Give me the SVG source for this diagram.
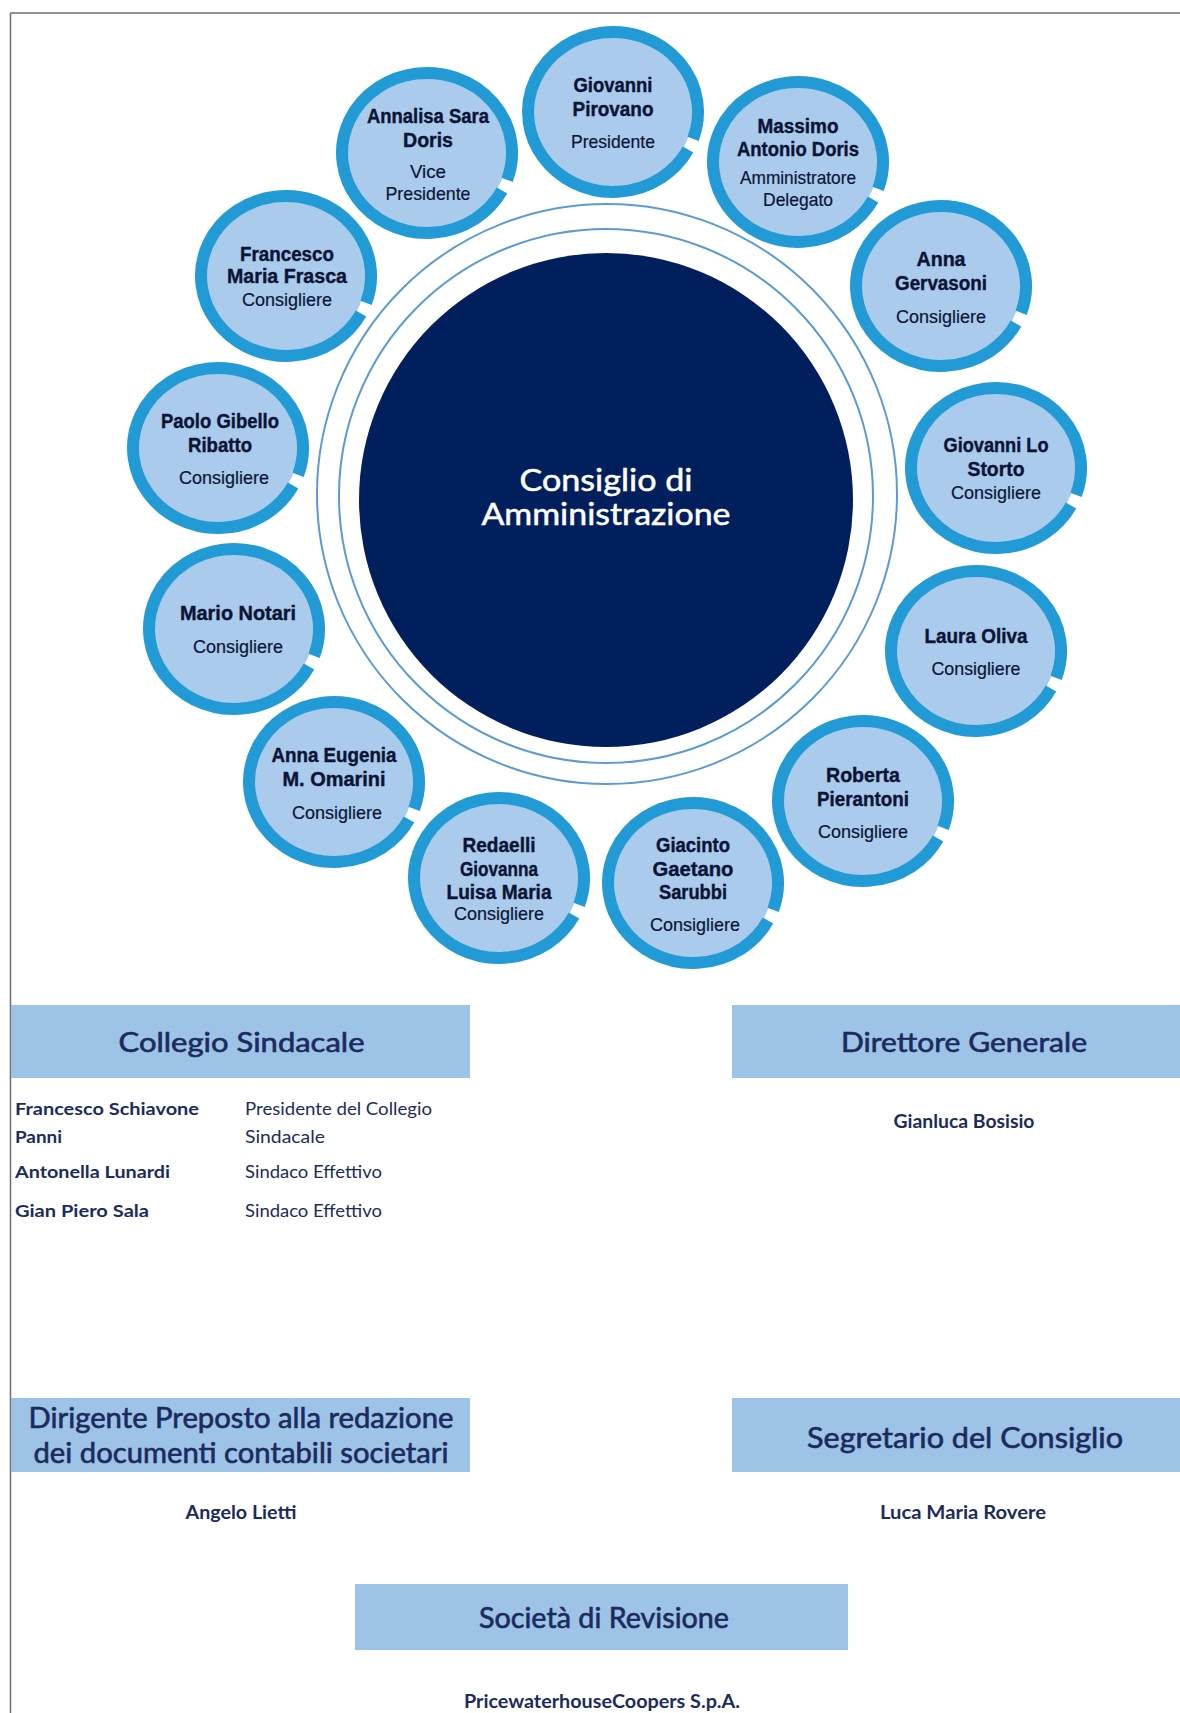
<svg xmlns="http://www.w3.org/2000/svg" xmlns:xlink="http://www.w3.org/1999/xlink" width="1180" height="1713" viewBox="0 0 1180 1713">
  <style>
    .frame { stroke: #6e6e6e; stroke-width: 1.5; fill: none; }
    .orbit { fill: none; stroke: #5b9bd5; stroke-width: 2; }
    .core { fill: #001f5c; }
    .disc { fill: #aacbec; }
    .ring { fill: none; stroke: #229ad6; stroke-width: 12; stroke-linecap: butt; }
    .nm { font-family: "Liberation Sans Narrow", "Liberation Sans", Arial, sans-serif; font-weight: bold; font-size: 20px; fill: #0b1435; stroke: #0b1435; stroke-width: 0.4; text-anchor: middle; }
    .rl { font-family: "Liberation Sans Narrow", "Liberation Sans", Arial, sans-serif; font-weight: normal; font-size: 19px; fill: #0b1435; stroke: #0b1435; stroke-width: 0.2; text-anchor: middle; }
    .title { font-family: Lato, "Liberation Sans", sans-serif; font-size: 30px; fill: #ffffff; stroke: #ffffff; stroke-width: 0.5; text-anchor: middle; }
    .bar { fill: #9dc3e6; }
    .head { font-family: Lato, "Liberation Sans", sans-serif; font-size: 26px; fill: #1c2b5e; stroke: #1c2b5e; stroke-width: 0.6; text-anchor: middle; }
    .headc { font-family: Lato, "Liberation Sans", sans-serif; font-size: 28px; fill: #1c2b5e; stroke: #1c2b5e; stroke-width: 0.6; text-anchor: middle; }
    .who { font-family: Lato, "Liberation Sans", sans-serif; font-weight: bold; font-size: 17.5px; fill: #1c2b5e; }
    .what { font-family: Lato, "Liberation Sans", sans-serif; font-size: 17.5px; fill: #1c2b5e; }
    .whoc { font-family: Lato, "Liberation Sans", sans-serif; font-weight: bold; font-size: 18px; fill: #1c2b5e; text-anchor: middle; }
  </style>
  <defs>
    <!-- member badge: light disc with an open blue ring, gap on the lower right -->
    <g id="badge">
      <ellipse class="disc" cx="0" cy="0" rx="80" ry="75"/>
      <path class="ring" d="M75.04,37.56 A85,80 0 1 1 80.10,26.78"/>
    </g>
  </defs>

  <rect width="1180" height="1713" fill="#ffffff"/>

  <!-- page frame -->
  <g id="frame">
    <line class="frame" x1="10.5" y1="13" x2="1180" y2="13"/>
    <line class="frame" x1="10.5" y1="13" x2="10.5" y2="1713"/>
  </g>

  <!-- board of directors hub -->
  <g id="board">
    <circle class="orbit" cx="607" cy="494" r="290"/>
    <circle class="orbit" cx="606" cy="496" r="267"/>
    <circle class="core" cx="606" cy="500" r="247"/>
    <text class="title" x="606" y="491" textLength="173" lengthAdjust="spacingAndGlyphs">Consiglio di</text>
    <text class="title" x="606" y="525" textLength="249" lengthAdjust="spacingAndGlyphs">Amministrazione</text>
  </g>

  <!-- board members -->
  <g id="m-pirovano" transform="translate(613,112)">
    <use xlink:href="#badge"/>
    <text class="nm" x="0" y="-20" textLength="79" lengthAdjust="spacingAndGlyphs">Giovanni</text>
    <text class="nm" x="0" y="4" textLength="81" lengthAdjust="spacingAndGlyphs">Pirovano</text>
    <text class="rl" x="0" y="36" textLength="84" lengthAdjust="spacingAndGlyphs">Presidente</text>
  </g>

  <g id="m-mdoris" transform="translate(798,162)">
    <use xlink:href="#badge"/>
    <text class="nm" x="0" y="-29" textLength="81" lengthAdjust="spacingAndGlyphs">Massimo</text>
    <text class="nm" x="0" y="-6" textLength="122" lengthAdjust="spacingAndGlyphs">Antonio Doris</text>
    <text class="rl" x="0" y="22" font-size="17" textLength="116" lengthAdjust="spacingAndGlyphs">Amministratore</text>
    <text class="rl" x="0" y="44" font-size="17" textLength="70" lengthAdjust="spacingAndGlyphs">Delegato</text>
  </g>

  <g id="m-gervasoni" transform="translate(941,286)">
    <use xlink:href="#badge"/>
    <text class="nm" x="0" y="-20" textLength="49" lengthAdjust="spacingAndGlyphs">Anna</text>
    <text class="nm" x="0" y="4" textLength="92" lengthAdjust="spacingAndGlyphs">Gervasoni</text>
    <text class="rl" x="0" y="37" textLength="90" lengthAdjust="spacingAndGlyphs">Consigliere</text>
  </g>

  <g id="m-lostorto" transform="translate(996,468)">
    <use xlink:href="#badge"/>
    <text class="nm" x="0" y="-16" textLength="105" lengthAdjust="spacingAndGlyphs">Giovanni Lo</text>
    <text class="nm" x="0" y="8" textLength="57" lengthAdjust="spacingAndGlyphs">Storto</text>
    <text class="rl" x="0" y="31" textLength="90" lengthAdjust="spacingAndGlyphs">Consigliere</text>
  </g>

  <g id="m-oliva" transform="translate(976,651)">
    <use xlink:href="#badge"/>
    <text class="nm" x="0" y="-8" textLength="103" lengthAdjust="spacingAndGlyphs">Laura Oliva</text>
    <text class="rl" x="0" y="24" textLength="89" lengthAdjust="spacingAndGlyphs">Consigliere</text>
  </g>

  <g id="m-pierantoni" transform="translate(863,801)">
    <use xlink:href="#badge"/>
    <text class="nm" x="0" y="-19" textLength="74" lengthAdjust="spacingAndGlyphs">Roberta</text>
    <text class="nm" x="0" y="5" textLength="92" lengthAdjust="spacingAndGlyphs">Pierantoni</text>
    <text class="rl" x="0" y="37" textLength="90" lengthAdjust="spacingAndGlyphs">Consigliere</text>
  </g>

  <g id="m-sarubbi" transform="translate(693,883)">
    <use xlink:href="#badge"/>
    <text class="nm" x="0" y="-31" textLength="74" lengthAdjust="spacingAndGlyphs">Giacinto</text>
    <text class="nm" x="0" y="-7" textLength="81" lengthAdjust="spacingAndGlyphs">Gaetano</text>
    <text class="nm" x="0" y="16" textLength="68" lengthAdjust="spacingAndGlyphs">Sarubbi</text>
    <text class="rl" x="2" y="48" textLength="90" lengthAdjust="spacingAndGlyphs">Consigliere</text>
  </g>

  <g id="m-redaelli" transform="translate(499,878)">
    <use xlink:href="#badge"/>
    <text class="nm" x="0" y="-26" textLength="73" lengthAdjust="spacingAndGlyphs">Redaelli</text>
    <text class="nm" x="0" y="-2" textLength="78" lengthAdjust="spacingAndGlyphs">Giovanna</text>
    <text class="nm" x="0" y="21" textLength="105" lengthAdjust="spacingAndGlyphs">Luisa Maria</text>
    <text class="rl" x="0" y="42" textLength="90" lengthAdjust="spacingAndGlyphs">Consigliere</text>
  </g>

  <g id="m-omarini" transform="translate(334,782)">
    <use xlink:href="#badge"/>
    <text class="nm" x="0" y="-20" textLength="125" lengthAdjust="spacingAndGlyphs">Anna Eugenia</text>
    <text class="nm" x="0" y="4" textLength="103" lengthAdjust="spacingAndGlyphs">M. Omarini</text>
    <text class="rl" x="3" y="37" textLength="90" lengthAdjust="spacingAndGlyphs">Consigliere</text>
  </g>

  <g id="m-notari" transform="translate(234,629)">
    <use xlink:href="#badge"/>
    <text class="nm" x="4" y="-9" textLength="116" lengthAdjust="spacingAndGlyphs">Mario Notari</text>
    <text class="rl" x="4" y="24" textLength="90" lengthAdjust="spacingAndGlyphs">Consigliere</text>
  </g>

  <g id="m-gibello" transform="translate(218,448)">
    <use xlink:href="#badge"/>
    <text class="nm" x="2" y="-20" textLength="118" lengthAdjust="spacingAndGlyphs">Paolo Gibello</text>
    <text class="nm" x="2" y="4" textLength="64" lengthAdjust="spacingAndGlyphs">Ribatto</text>
    <text class="rl" x="6" y="36" textLength="90" lengthAdjust="spacingAndGlyphs">Consigliere</text>
  </g>

  <g id="m-frasca" transform="translate(286,276)">
    <use xlink:href="#badge"/>
    <text class="nm" x="1" y="-15" textLength="94" lengthAdjust="spacingAndGlyphs">Francesco</text>
    <text class="nm" x="1" y="7" textLength="120" lengthAdjust="spacingAndGlyphs">Maria Frasca</text>
    <text class="rl" x="1" y="30" textLength="90" lengthAdjust="spacingAndGlyphs">Consigliere</text>
  </g>

  <g id="m-adoris" transform="translate(427,153)">
    <use xlink:href="#badge"/>
    <text class="nm" x="1" y="-30" textLength="122" lengthAdjust="spacingAndGlyphs">Annalisa Sara</text>
    <text class="nm" x="1" y="-6" textLength="50" lengthAdjust="spacingAndGlyphs">Doris</text>
    <text class="rl" x="1" y="25" textLength="36" lengthAdjust="spacingAndGlyphs">Vice</text>
    <text class="rl" x="1" y="47" textLength="85" lengthAdjust="spacingAndGlyphs">Presidente</text>
  </g>

  <!-- control and management bodies -->
  <g id="collegio">
    <rect class="bar" x="11" y="1005" width="459" height="73"/>
    <text class="head" x="241.5" y="1052" textLength="246" lengthAdjust="spacingAndGlyphs">Collegio Sindacale</text>
    <text class="who" x="15" y="1115" textLength="184" lengthAdjust="spacingAndGlyphs">Francesco Schiavone</text>
    <text class="who" x="15" y="1143" textLength="47" lengthAdjust="spacingAndGlyphs">Panni</text>
    <text class="who" x="15" y="1178" textLength="155" lengthAdjust="spacingAndGlyphs">Antonella Lunardi</text>
    <text class="who" x="15" y="1217" textLength="134" lengthAdjust="spacingAndGlyphs">Gian Piero Sala</text>
    <text class="what" x="245" y="1115" textLength="187" lengthAdjust="spacingAndGlyphs">Presidente del Collegio</text>
    <text class="what" x="245" y="1143" textLength="80" lengthAdjust="spacingAndGlyphs">Sindacale</text>
    <text class="what" x="245" y="1178" textLength="137" lengthAdjust="spacingAndGlyphs">Sindaco Effettivo</text>
    <text class="what" x="245" y="1217" textLength="137" lengthAdjust="spacingAndGlyphs">Sindaco Effettivo</text>
  </g>

  <g id="direttore">
    <rect class="bar" x="732" y="1005" width="448" height="73"/>
    <text class="head" x="964" y="1052" textLength="246" lengthAdjust="spacingAndGlyphs">Direttore Generale</text>
    <text class="whoc" x="964" y="1128" textLength="141" lengthAdjust="spacingAndGlyphs">Gianluca Bosisio</text>
  </g>

  <g id="dirigente">
    <rect class="bar" x="11" y="1398" width="459" height="74"/>
    <text class="headc" x="241" y="1428" textLength="425" lengthAdjust="spacingAndGlyphs">Dirigente Preposto alla redazione</text>
    <text class="headc" x="241" y="1463" textLength="415" lengthAdjust="spacingAndGlyphs">dei documenti contabili societari</text>
    <text class="whoc" x="241" y="1519" textLength="111" lengthAdjust="spacingAndGlyphs">Angelo Lietti</text>
  </g>

  <g id="segretario">
    <rect class="bar" x="732" y="1398" width="448" height="74"/>
    <text class="headc" x="965" y="1448" textLength="316" lengthAdjust="spacingAndGlyphs">Segretario del Consiglio</text>
    <text class="whoc" x="963" y="1519" textLength="166" lengthAdjust="spacingAndGlyphs">Luca Maria Rovere</text>
  </g>

  <g id="revisione">
    <rect class="bar" x="355" y="1584" width="493" height="66"/>
    <text class="headc" x="604" y="1628" textLength="250" lengthAdjust="spacingAndGlyphs">Società di Revisione</text>
    <text class="whoc" x="602" y="1708" textLength="276" lengthAdjust="spacingAndGlyphs">PricewaterhouseCoopers S.p.A.</text>
  </g>
</svg>
